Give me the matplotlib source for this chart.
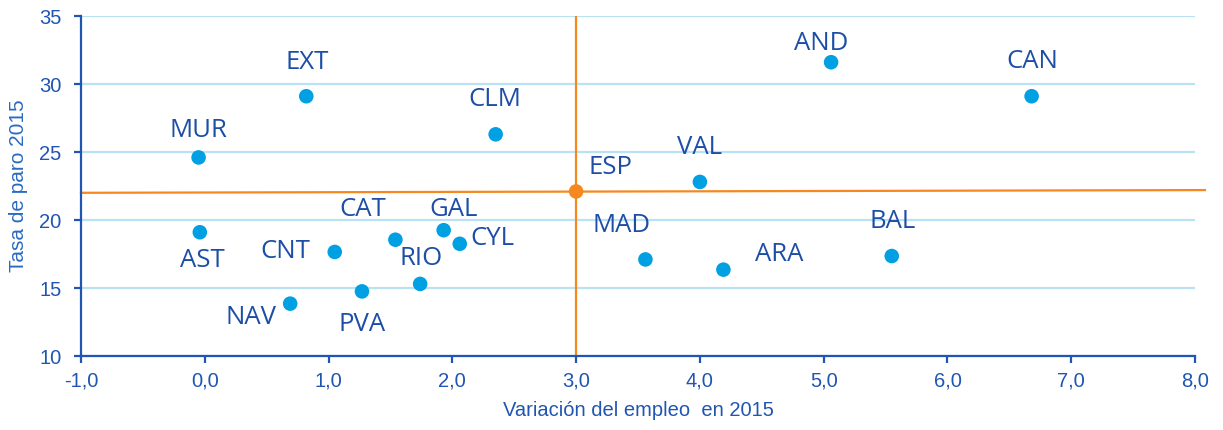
import matplotlib
matplotlib.use("Agg")
import matplotlib.pyplot as plt
from matplotlib.ticker import FuncFormatter

# ---------------------------------------------------------
# Data: regions, employment change vs unemployment rate
# ---------------------------------------------------------
regions = ["MUR", "AST", "EXT", "NAV", "CNT", "PVA", "CAT", "RIO", "GAL",
           "CYL", "CLM", "MAD", "VAL", "ARA", "AND", "BAL", "CAN"]
empleo = [-0.05, -0.04, 0.82, 0.69, 1.05, 1.27, 1.54, 1.74, 1.93,
          2.06, 2.35, 3.56, 4.00, 4.19, 5.06, 5.55, 6.68]
paro = [24.6, 19.1, 29.1, 13.85, 17.65, 14.75, 18.55, 15.3, 19.25,
        18.25, 26.3, 17.1, 22.8, 16.35, 31.6, 17.35, 29.1]

esp_empleo = 3.0
esp_paro = 22.1

# Spain reference line (horizontal, slightly drifting in the original)
ref_x = [-1.0, 8.08]
ref_y = [22.0, 22.2]

x_ticks = [-1, 0, 1, 2, 3, 4, 5, 6, 7, 8]
y_ticks = [10, 15, 20, 25, 30, 35]

# label offsets in pixels (dx, dy)
label_offsets = {
    "MUR": (0, 27), "AST": (3, -28), "EXT": (1, 34), "NAV": (-39, -14),
    "CNT": (-49, 0), "PVA": (0, -33), "CAT": (-33, 30), "RIO": (1, 25),
    "GAL": (10, 21), "CYL": (33, 5), "CLM": (-1, 35), "MAD": (-24, 34),
    "VAL": (0, 34), "ARA": (56, 15), "AND": (-10, 19), "BAL": (1, 35),
    "CAN": (1, 35), "ESP": (34, 24),
}

DOT = "#00A0E3"
ORANGE = "#F5891F"
TEXT = "#1D4EA6"
AXIS = "#2055B2"
GRID = "#B9E3F5"

fig = plt.figure(figsize=(12.23, 4.30), dpi=100)
ax = fig.add_axes([81 / 1223, 74 / 430, 1114 / 1223, 340 / 430])

ax.set_xlim(-1, 8)
ax.set_ylim(10, 35)
ax.set_xticks(x_ticks)
ax.set_yticks(y_ticks)
ax.xaxis.set_major_formatter(FuncFormatter(lambda v, _: f"{v:.1f}".replace(".", ",")))

ax.grid(True, axis="y", color=GRID, linewidth=1.6, zorder=0)
ax.set_axisbelow(True)

for side in ("top", "right"):
    ax.spines[side].set_visible(False)
for side in ("left", "bottom"):
    ax.spines[side].set_color(AXIS)
    ax.spines[side].set_linewidth(1.6)

ax.tick_params(axis="both", colors=AXIS, labelcolor=AXIS, width=1.6,
               length=5, labelsize=14.5)
ax.tick_params(axis="x", pad=6)
ax.tick_params(axis="y", pad=9)
for lab in ax.get_xticklabels() + ax.get_yticklabels():
    lab.set_family("Liberation Sans")

# reference lines through Spain
ax.plot(ref_x, ref_y, color=ORANGE, linewidth=1.6, clip_on=False, zorder=2)
ax.plot([esp_empleo, esp_empleo], [10, 35], color=ORANGE, linewidth=1.6, zorder=2)

ax.scatter(empleo, paro, s=110, color=DOT, edgecolors="none", zorder=3)
ax.scatter([esp_empleo], [esp_paro], s=110, color=ORANGE, edgecolors="none", zorder=3)

for name, xv, yv in zip(regions + ["ESP"], empleo + [esp_empleo], paro + [esp_paro]):
    dx, dy = label_offsets[name]
    ax.annotate(name, (xv, yv), xytext=(dx * 0.72, dy * 0.72),
                textcoords="offset points", ha="center", va="center",
                fontsize=18.5, fontweight=500, color=TEXT, family="Open Sans",
                zorder=4)

ax.set_xlabel("Variación del empleo  en 2015", fontsize=14.5, color=AXIS,
              family="Liberation Sans", labelpad=8)
ax.set_ylabel("Tasa de paro 2015", fontsize=15, color="#2A6BC0",
              family="Liberation Sans", labelpad=8)

fig.savefig("out.png", dpi=100)
plt.close(fig)
